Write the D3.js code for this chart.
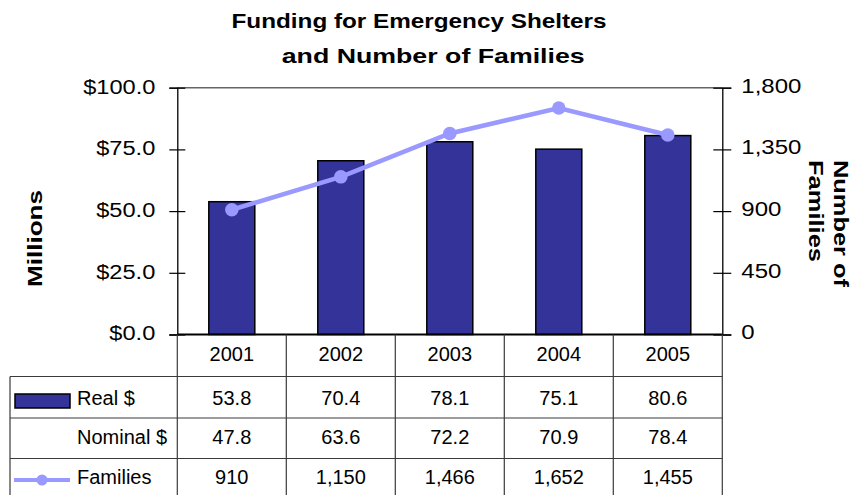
<!DOCTYPE html>
<html><head><meta charset="utf-8">
<script src="https://cdn.jsdelivr.net/npm/d3@7/dist/d3.min.js"></script>
<style>
body{margin:0;background:#fff;}
svg{display:block;font-family:"Liberation Sans",Arial,sans-serif;}
</style></head>
<body>
<svg id="c" width="851" height="495"></svg>
<script>
const years = ["2001","2002","2003","2004","2005"];
const realDollars = [53.8,70.4,78.1,75.1,80.6];
const nominalDollars = [47.8,63.6,72.2,70.9,78.4];
const families = [910,1150,1466,1652,1455];
const leftTicks = [0,25,50,75,100];
const rightTicks = [0,450,900,1350,1800];
const titleLines = ["Funding for Emergency Shelters","and Number of Families"];
const rowLabels = ["Real $","Nominal $","Families"];

const svg = d3.select("#c");
const L = 177.3, R = 722.3, T = 87.7, B = 334.5;
const barColor = "#333399", lineColor = "#9999ff";

const x = d3.scaleBand().domain(years).range([L,R]);
const y = d3.scaleLinear().domain([0,100]).range([B,T]);
const y2 = d3.scaleLinear().domain([0,1800]).range([B,T]);
const bw = 46;

function stretch(sel, factor){
  sel.each(function(){
    const w = this.getComputedTextLength();
    d3.select(this).attr("textLength", w*factor).attr("lengthAdjust","spacingAndGlyphs");
  });
}

// title
const tl = svg.append("g").attr("font-weight","bold").attr("font-size",21).attr("fill","#000");
tl.append("text").attr("x",231.5).attr("y",28.3).attr("textLength",375).attr("lengthAdjust","spacingAndGlyphs").text(titleLines[0]);
tl.append("text").attr("x",281.7).attr("y",63.3).attr("textLength",303).attr("lengthAdjust","spacingAndGlyphs").text(titleLines[1]);

// axis titles
svg.append("text").attr("transform","translate(42,287) rotate(-90)").attr("font-weight","bold").attr("font-size",21)
  .attr("textLength",97).attr("lengthAdjust","spacingAndGlyphs").text("Millions");
svg.append("text").attr("transform","translate(833.5,160) rotate(90)").attr("font-weight","bold").attr("font-size",21)
  .attr("textLength",127).attr("lengthAdjust","spacingAndGlyphs").text("Number of");
svg.append("text").attr("transform","translate(808.5,160) rotate(90)").attr("font-weight","bold").attr("font-size",21)
  .attr("textLength",102).attr("lengthAdjust","spacingAndGlyphs").text("Families");

// top border
svg.append("line").attr("x1",L).attr("x2",R).attr("y1",T).attr("y2",T).attr("stroke","#666").attr("stroke-width",1.5);

// bars
svg.append("g").selectAll("rect").data(realDollars).join("rect")
  .attr("x",(d,i)=>x(years[i])+(x.bandwidth()-bw)/2)
  .attr("y",d=>y(d)).attr("width",bw).attr("height",d=>B-y(d))
  .attr("fill",barColor).attr("stroke","#000").attr("stroke-width",1.5);

// left axis
const ax = svg.append("g").attr("transform",`translate(${L},0)`)
  .call(d3.axisLeft(y).tickValues(leftTicks).tickSize(8).tickPadding(14).tickFormat(d=>"$"+d3.format(".1f")(d)));
ax.select(".domain").attr("stroke","#000").attr("stroke-width",1.3);
ax.selectAll(".tick line").attr("x1",8).attr("stroke","#000").attr("stroke-width",1.2);
ax.selectAll(".tick text").attr("font-size",20).attr("fill","#000").attr("font-family","Liberation Sans, Arial, sans-serif").attr("dy","0.27em");
stretch(ax.selectAll(".tick text"), 1.18);

// right axis
const ar = svg.append("g").attr("transform",`translate(${R},0)`)
  .call(d3.axisRight(y2).tickValues(rightTicks).tickSize(9).tickPadding(10).tickFormat(d3.format(",")));
ar.select(".domain").attr("stroke","#000").attr("stroke-width",1.3);
ar.selectAll(".tick line").attr("x1",-9).attr("stroke","#000").attr("stroke-width",1.2);
ar.selectAll(".tick text").attr("font-size",20).attr("fill","#000").attr("font-family","Liberation Sans, Arial, sans-serif").attr("dy","0.22em");
stretch(ar.selectAll(".tick text"), 1.2);

// bottom axis line
svg.append("line").attr("x1",L).attr("x2",R).attr("y1",B).attr("y2",B).attr("stroke","#000").attr("stroke-width",2);

// families line
const cx = i => x(years[i]) + x.bandwidth()/2;
svg.append("path").datum(families)
  .attr("d",d3.line().x((d,i)=>cx(i)).y(d=>y2(d)))
  .attr("fill","none").attr("stroke",lineColor).attr("stroke-width",4.5);
svg.append("g").selectAll("circle").data(families).join("circle")
  .attr("cx",(d,i)=>cx(i)).attr("cy",d=>y2(d)).attr("r",6.8).attr("fill",lineColor);

// data table
const rows = [334.5,376.5,418,458.5,500];
const baselines = [361,405,444,483.5];
const gridColor = "#3a3a3a";
const g = svg.append("g").attr("stroke",gridColor).attr("stroke-width",1.2);
[rows[1],rows[2],rows[3]].forEach(yy=>g.append("line").attr("x1",10).attr("x2",R).attr("y1",yy).attr("y2",yy));
const bounds = years.map(yr=>x(yr)).concat([R]);
bounds.forEach(xx=>g.append("line").attr("x1",xx).attr("x2",xx).attr("y1",B).attr("y2",rows[4]));
g.append("line").attr("x1",10).attr("x2",10).attr("y1",rows[1]).attr("y2",rows[4]);

const tbl = svg.append("g").attr("font-size",20).attr("fill","#000").attr("text-anchor","middle");
const fmt1 = d3.format(".1f"), fmtC = d3.format(",");
const tableRows = [years, realDollars.map(fmt1), nominalDollars.map(fmt1), families.map(fmtC)];
tableRows.forEach((vals,r)=>{
  vals.forEach((v,i)=>{
    tbl.append("text").attr("x",cx(i)).attr("y",baselines[r]).text(v);
  });
});

// row labels & legend keys
const lg = svg.append("g").attr("font-size",20).attr("fill","#000");
rowLabels.forEach((lab,i)=>lg.append("text").attr("x",77).attr("y",baselines[i+1]).text(lab));
svg.append("rect").attr("x",15).attr("y",394).attr("width",55).attr("height",14)
  .attr("fill",barColor).attr("stroke","#000").attr("stroke-width",1.5);
svg.append("line").attr("x1",14).attr("x2",70).attr("y1",480).attr("y2",480).attr("stroke",lineColor).attr("stroke-width",4);
svg.append("circle").attr("cx",42).attr("cy",480).attr("r",5.5).attr("fill",lineColor);
</script>
</body></html>
